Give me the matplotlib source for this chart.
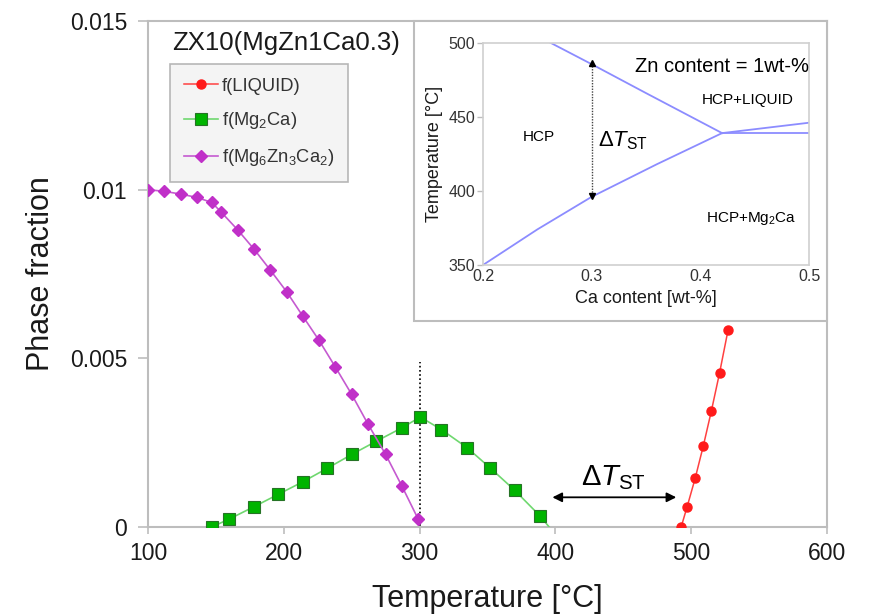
import matplotlib
matplotlib.use('Agg')
import matplotlib.pyplot as plt
from matplotlib.patches import Rectangle

plt.rcParams['font.family'] = ['Liberation Sans', 'DejaVu Sans']
plt.rcParams['mathtext.fontset'] = 'custom'
plt.rcParams['mathtext.rm'] = 'Liberation Sans'
plt.rcParams['mathtext.it'] = 'Liberation Sans:italic'
plt.rcParams['mathtext.bf'] = 'Liberation Sans:bold'

# main chart data (temperature in degC, phase fraction)
liq_T = [492.6, 497, 502.9, 508.9, 514.8, 520.9, 527.1]
liq_f = [0.0, 0.00060, 0.00144, 0.00240, 0.00343, 0.00457, 0.00583]

mg2ca_T = [147, 160, 178, 196, 214, 232, 250, 268, 287, 300.5, 316, 335, 352, 370, 388.6, 395.4]
mg2ca_f = [0.0, 0.00024, 0.00060, 0.00097, 0.00134, 0.00174, 0.00215, 0.00254,
           0.00294, 0.00326, 0.00289, 0.00235, 0.00175, 0.00109, 0.00033, 0.0]

tau_T = [100, 112, 124, 136, 147, 154, 166, 178, 190, 202, 214, 226, 238, 250, 262, 275, 287, 299]
tau_f = [0.0100, 0.00995, 0.00987, 0.00977, 0.00962, 0.00933, 0.00881, 0.00824, 0.00762,
         0.00698, 0.00625, 0.00553, 0.00474, 0.00393, 0.00305, 0.00215, 0.00121, 0.00023]

x_ticks = [100, 200, 300, 400, 500, 600]
y_ticks = [0, 0.005, 0.01, 0.015]
y_tick_labels = ['0', '0.005', '0.01', '0.015']

# inset phase diagram data (Ca wt-%, temperature degC)
liquidus_ca = [0.262, 0.30, 0.35, 0.42]
liquidus_T = [500, 485.5, 466, 439]
solvus_ca = [0.2, 0.25, 0.30, 0.36, 0.42]
solvus_T = [350, 374, 396, 418, 439]
upper_ca = [0.42, 0.5]
upper_T = [439, 446]
lower_ca = [0.42, 0.5]
lower_T = [439, 439]

spine_grey = '#bdbdbd'

fig = plt.figure(figsize=(8.74, 6.14), dpi=100)
ax = fig.add_axes([148 / 874, 87 / 614, 679 / 874, 506 / 614])

ax.plot(liq_T, liq_f, color='#ff4040', lw=1.1, marker='o', ms=6.5,
        mfc='#ff1a1a', mec='#ff1a1a', label='f(LIQUID)', zorder=3)
ax.plot(mg2ca_T, mg2ca_f, color='#6fd86f', lw=1.2, marker='s', ms=9,
        mfc='#00b400', mec='#267326', mew=0.8, markevery=list(range(len(mg2ca_T) - 1)),
        label=r'f(Mg$_{\mathrm{2}}$Ca)', zorder=3)
ax.plot(tau_T, tau_f, color='#c55ad0', lw=1.2, marker='D', ms=5.8,
        mfc='#c030c8', mec='#c030c8', label=r'f(Mg$_{\mathrm{6}}$Zn$_{\mathrm{3}}$Ca$_{\mathrm{2}}$)', zorder=4)

ax.plot([300, 300], [-0.0001, 0.0049], ls=(0, (1, 1.5)), color='black', lw=1.2, zorder=2)

ax.annotate('', xy=(397.8, 0.00088), xytext=(489, 0.00088),
            arrowprops=dict(arrowstyle='<|-|>', color='black', lw=1.3,
                            mutation_scale=14, shrinkA=0, shrinkB=0))
ax.text(443, 0.00124, r'$\Delta\mathit{T}_{\mathrm{ST}}$', fontsize=21,
        ha='center', va='baseline')

ax.set_xlim(100, 600)
ax.set_ylim(0, 0.015)
ax.set_xticks(x_ticks)
ax.set_yticks(y_ticks)
ax.set_yticklabels(y_tick_labels)
ax.tick_params(labelsize=16.5, colors=spine_grey, labelcolor='#1a1a1a',
               length=7, width=1.2)
ax.tick_params(axis='y', pad=8)
ax.tick_params(axis='x', length=5, pad=6)
for s in ax.spines.values():
    s.set_color(spine_grey)
    s.set_linewidth(1.5)

ax.set_xlabel('Temperature [°C]', fontsize=22, color='#1a1a1a')
ax.set_ylabel('Phase fraction', fontsize=22, color='#1a1a1a')
ax.xaxis.set_label_coords(0.5, -0.113)
ax.yaxis.set_label_coords(-0.135, 0.5)

ax.text(0.035, 0.956, 'ZX10(MgZn1Ca0.3)', transform=ax.transAxes,
        fontsize=18.5, va='center', ha='left', color='#1a1a1a')

leg = ax.legend(loc='upper left', bbox_to_anchor=(0.0324, 0.915), borderaxespad=0,
                fontsize=13.2, frameon=True, fancybox=False, handlelength=1.85,
                handletextpad=0.25, labelspacing=0.85, borderpad=0.75)
leg.get_frame().set_facecolor('#f2f2f2')
leg.get_frame().set_edgecolor('#a6a6a6')
leg.get_frame().set_linewidth(1.2)
for t in leg.get_texts():
    t.set_color('#333333')

# inset frame
fig.patches.append(Rectangle((414 / 874, (614 - 321) / 614), 413 / 874, 300 / 614,
                             transform=fig.transFigure, facecolor='white',
                             edgecolor=spine_grey, lw=1.5, zorder=5))

ins = fig.add_axes([483 / 874, (614 - 265) / 614, 326 / 874, 222.3 / 614], zorder=6)
blue = '#8c8cff'
ins.plot(liquidus_ca, liquidus_T, color=blue, lw=1.3)
ins.plot(solvus_ca, solvus_T, color=blue, lw=1.3)
ins.plot(upper_ca, upper_T, color=blue, lw=1.3)
ins.plot(lower_ca, lower_T, color=blue, lw=1.3)

ins.plot([0.3, 0.3], [397, 486], ls=(0, (1, 1)), color='#444444', lw=1.0)
ins.plot([0.3], [396.5], marker='v', ms=4, color='black')
ins.plot([0.3], [486.5], marker='^', ms=4, color='black')

ins.text(0.2515, 436.6, 'HCP', fontsize=11, ha='center', va='center')
ins.text(0.444, 461.5, 'HCP+LIQUID', fontsize=11, ha='center', va='center')
ins.text(0.4467, 381.5, r'HCP+Mg$_{\mathrm{2}}$Ca', fontsize=11, ha='center', va='center')
ins.text(0.5, 484, 'Zn content = 1wt-%', fontsize=14.5, ha='right', va='center')
ins.text(0.306, 430.3, r'$\Delta\mathit{T}_{\mathrm{ST}}$', fontsize=16,
         ha='left', va='baseline')

ins.set_xlim(0.2, 0.5)
ins.set_ylim(350, 500)
ins.set_xticks([0.2, 0.3, 0.4, 0.5])
ins.set_xticklabels(['0.2', '0.3', '0.4', '0.5'])
ins.set_yticks([350, 400, 450, 500])
ins.tick_params(labelsize=11.5, colors=spine_grey, labelcolor='#333333',
                length=4, width=1, pad=1.5)
ins.tick_params(axis='x', length=0, pad=3)
for s in ins.spines.values():
    s.set_color('#d0d0d0')
    s.set_linewidth(1.2)
ins.set_xlabel('Ca content [wt-%]', fontsize=13, color='#1a1a1a', labelpad=4)
ins.set_ylabel('Temperature [°C]', fontsize=13, color='#1a1a1a', labelpad=4)

fig.savefig('out.png', dpi=100)
